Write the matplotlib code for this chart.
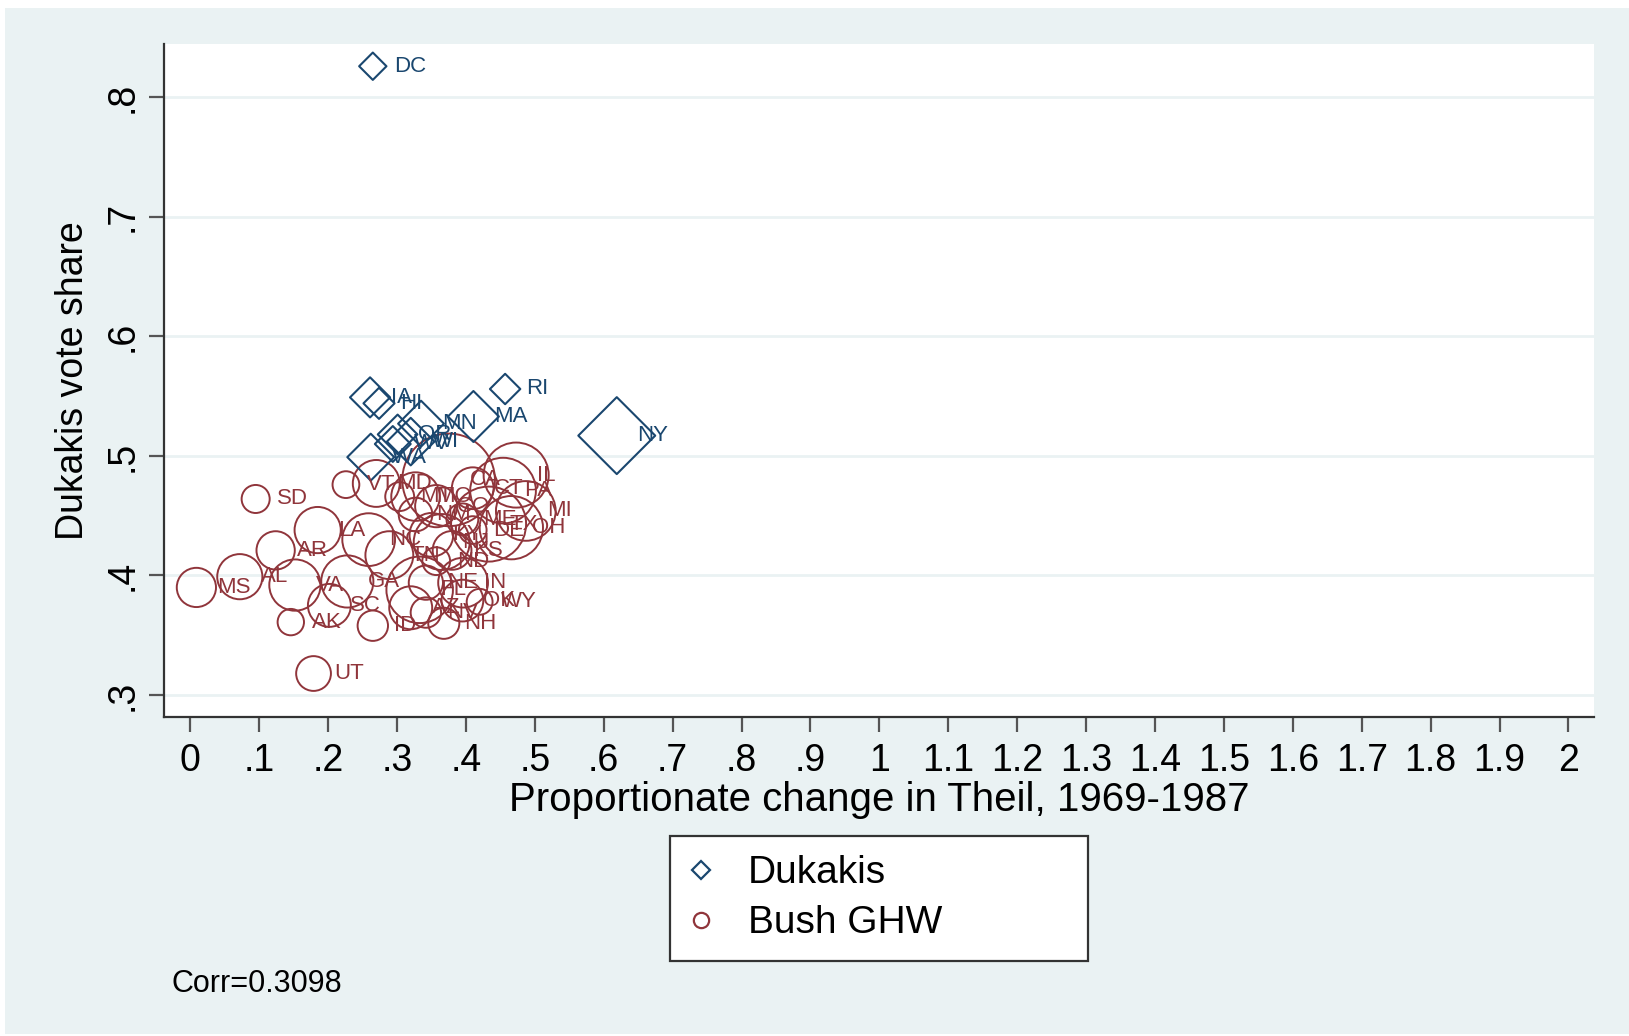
import matplotlib
matplotlib.use("Agg")
import matplotlib.pyplot as plt
from matplotlib.patches import Rectangle
from matplotlib.lines import Line2D
import numpy as np

# Dukakis-won states: label, change in Theil, Dukakis share, population (millions)
dk_lab = ['DC', 'RI', 'IA', 'HI', 'MA', 'MN', 'NY', 'OR', 'WV', 'WI', 'WA']
dk_x = [0.265, 0.457, 0.261, 0.274, 0.411, 0.335, 0.619, 0.301, 0.294, 0.320, 0.262]
dk_y = [0.826, 0.556, 0.549, 0.544, 0.533, 0.527, 0.517, 0.518, 0.510, 0.512, 0.499]
dk_pop = [0.62, 1.0, 2.8, 1.1, 5.9, 4.3, 17.9, 2.7, 1.9, 4.8, 4.6]

# Bush-won states
bu_lab = ['SD', 'MS', 'AL', 'AR', 'LA', 'VA', 'GA', 'SC', 'AK', 'ID', 'UT', 'NH', 'WY',
          'NE', 'IN', 'OH', 'MI', 'IL', 'CA', 'PA', 'TX', 'VT', 'MD', 'MO', 'CT', 'MT',
          'CO', 'NM', 'ME', 'DE', 'KY', 'NJ', 'NC', 'TN', 'KS', 'ND', 'OK', 'FL', 'AZ', 'NV']
bu_x = [0.095, 0.009, 0.072, 0.124, 0.185, 0.152, 0.228, 0.202, 0.146, 0.265, 0.179, 0.368, 0.420,
        0.342, 0.396, 0.466, 0.487, 0.473, 0.375, 0.454, 0.433, 0.226, 0.270, 0.327, 0.410, 0.304,
        0.357, 0.327, 0.395, 0.410, 0.350, 0.365, 0.259, 0.289, 0.380, 0.357, 0.395, 0.333, 0.320, 0.342]
bu_y = [0.464, 0.390, 0.399, 0.421, 0.438, 0.392, 0.395, 0.375, 0.361, 0.358, 0.318, 0.360, 0.378,
        0.394, 0.394, 0.440, 0.454, 0.484, 0.480, 0.471, 0.443, 0.476, 0.477, 0.466, 0.473, 0.466,
        0.458, 0.451, 0.447, 0.438, 0.434, 0.428, 0.430, 0.417, 0.421, 0.412, 0.379, 0.388, 0.373, 0.369]
bu_pop = [0.7, 2.6, 4.1, 2.4, 4.4, 6.0, 6.3, 3.5, 0.52, 1.0, 1.7, 1.1, 0.47,
          1.6, 5.5, 10.8, 9.2, 11.6, 28.3, 11.9, 16.8, 0.56, 4.6, 5.1, 3.2, 0.8,
          3.3, 1.5, 1.2, 0.66, 3.7, 7.7, 6.5, 4.9, 2.5, 0.67, 3.2, 12.3, 3.5, 1.0]

corr_text = 'Corr=0.3098'

navy = '#1a476f'
maroon = '#90353b'
bg = '#eaf2f3'

plt.rcParams['font.family'] = ['Liberation Sans', 'DejaVu Sans']

fig = plt.figure(figsize=(16.29, 10.36), dpi=100)
fig.patch.set_facecolor('white')
fig.add_artist(Rectangle((0.003, 0.002), 0.997, 0.990, transform=fig.transFigure,
                         facecolor=bg, edgecolor='none', zorder=-10))

ax = fig.add_axes([0.1008, 0.308, 0.878, 0.650])
ax.set_facecolor('white')


def radius_pt(pop):
    # marker radius (points) grows with sqrt(population), with a floor
    return 0.72 * (8 + 7.2 * np.sqrt(np.asarray(pop)))


r_bu = radius_pt(bu_pop)
r_dk = radius_pt(dk_pop)

ax.scatter(bu_x, bu_y, s=(2 * r_bu) ** 2, marker='o', facecolors='none',
           edgecolors=maroon, linewidths=1.4, zorder=3)
ax.scatter(dk_x, dk_y, s=(r_dk / 0.707) ** 2, marker='D', facecolors='none',
           edgecolors=navy, linewidths=1.5, zorder=3)

for lab, x, y in zip(bu_lab, bu_x, bu_y):
    ax.annotate(lab, (x, y), xytext=(15, 0), textcoords='offset points',
                ha='left', va='center', fontsize=16, color=maroon, zorder=4)
for lab, x, y in zip(dk_lab, dk_x, dk_y):
    ax.annotate(lab, (x, y), xytext=(15, 0), textcoords='offset points',
                ha='left', va='center', fontsize=16, color=navy, zorder=4)

ax.set_xlim(-0.0377, 2.0377)
ax.set_ylim(0.2817, 0.845)

xt = np.round(np.arange(0, 2.01, 0.1), 1)
ax.set_xticks(xt)
ax.set_xticklabels(['0' if v == 0 else ('%g' % v).lstrip('0') if v < 1 else '%g' % v for v in xt])
yt = [0.3, 0.4, 0.5, 0.6, 0.7, 0.8]
ax.set_yticks(yt)
ax.set_yticklabels(['.3', '.4', '.5', '.6', '.7', '.8'], rotation=90, va='center')

ax.tick_params(axis='both', direction='out', length=11, width=1.6, color='#555555',
               labelsize=27, labelcolor='black')
ax.tick_params(axis='x', pad=8)
ax.tick_params(axis='y', pad=6)

ax.grid(axis='y', color=bg, linewidth=2)
ax.set_axisbelow(True)
for side in ['top', 'right']:
    ax.spines[side].set_visible(False)
for side in ['left', 'bottom']:
    ax.spines[side].set_color('#333333')
    ax.spines[side].set_linewidth(1.6)

ax.set_xlabel('Proportionate change in Theil, 1969-1987', fontsize=29, labelpad=1)
ax.set_ylabel('Dukakis vote share', fontsize=27, labelpad=10)

handles = [
    Line2D([], [], marker='D', linestyle='none', markersize=9, markerfacecolor='none',
           markeredgecolor=navy, markeredgewidth=1.6, label='Dukakis'),
    Line2D([], [], marker='o', linestyle='none', markersize=11, markerfacecolor='none',
           markeredgecolor=maroon, markeredgewidth=1.6, label='Bush GHW'),
]
leg = fig.legend(handles=handles, loc='upper left', bbox_to_anchor=(0.411, 0.079, 0.257, 0.114),
                 mode='expand', borderaxespad=0, fontsize=28, frameon=True, fancybox=False,
                 edgecolor='#333333', facecolor='white', framealpha=1,
                 handlelength=0.64, handletextpad=0.88, labelspacing=0.36, borderpad=0.5)
leg.get_frame().set_linewidth(1.6)

fig.text(0.105, 0.050, corr_text, fontsize=22, ha='left', va='center')

fig.savefig('out.png', dpi=100, facecolor=fig.get_facecolor())
